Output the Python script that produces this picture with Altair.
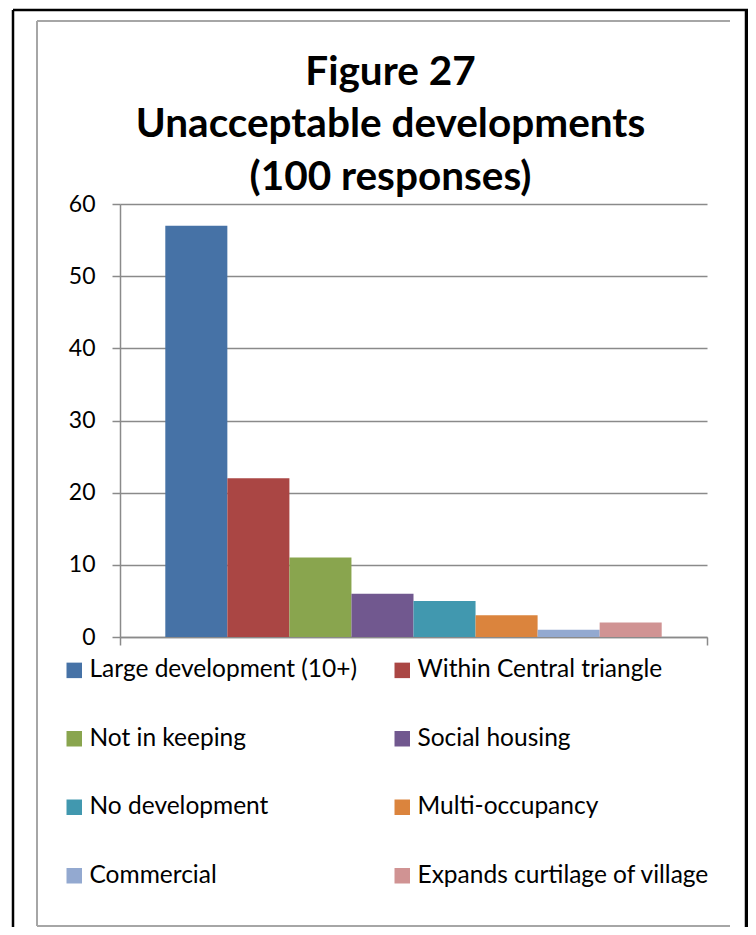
import altair as alt
import pandas as pd

# ---- data ----
series = [
    "Large development (10+)",
    "Within Central triangle",
    "Not in keeping",
    "Social housing",
    "No development",
    "Multi-occupancy",
    "Commercial",
    "Expands curtilage of village",
]
values = [57, 22, 11, 6, 5, 3, 1, 2]
colors = ["#4672A6", "#AA4644", "#89A54E", "#71588F", "#4198AF", "#DB843D", "#93A9D0", "#D09393"]
category = "Unacceptable developments"
title_lines = ["Figure 27", "Unacceptable developments", "(100 responses)"]
y_ticks = [0, 10, 20, 30, 40, 50, 60]

df = pd.DataFrame({"cat": [category] * len(series), "series": series, "value": values})

FONT = "Lato"
GRID = "#8a8a8a"

bars = alt.Chart(df).mark_bar().encode(
    x=alt.X("cat:N", title=None,
            scale=alt.Scale(paddingInner=0, paddingOuter=0),
            axis=alt.Axis(labels=False, tickBand="extent", tickSize=8, tickColor=GRID,
                          domainColor=GRID, domainWidth=1.5, tickWidth=1.5)),
    xOffset=alt.XOffset("series:N", sort=series,
                        scale=alt.Scale(paddingInner=0, paddingOuter=0.73)),
    y=alt.Y("value:Q", title=None,
            scale=alt.Scale(domain=[0, 60], nice=False),
            axis=alt.Axis(values=y_ticks, grid=True, gridColor=GRID, gridWidth=1.5,
                          domainColor=GRID, domainWidth=1.5, tickColor=GRID, tickWidth=1.5,
                          tickSize=8, labelPadding=17, labelFont=FONT, labelFontSize=23,
                          labelColor="black")),
    color=alt.Color("series:N", sort=series,
                    scale=alt.Scale(domain=series, range=colors),
                    legend=alt.Legend(title=None, orient="none", legendX=-58, legendY=454,
                                      direction="horizontal",
                                      columns=2, columnPadding=32, rowPadding=43.5,
                                      symbolType="square", symbolSize=240,
                                      symbolStrokeWidth=0, labelOffset=3,
                                      labelFont=FONT, labelFontSize=24.5,
                                      labelColor="black", labelLimit=400, padding=0)),
)

def frame(x, x2, y, y2, color, width):
    d = pd.DataFrame({"k": [0]})
    return alt.Chart(d).mark_rule(color=color, strokeWidth=width).encode(
        x=alt.value(x), x2=alt.value(x2), y=alt.value(y), y2=alt.value(y2))

frames = [
    # outer black frame
    frame(-107, -107, -194, 740, "black", 2.5),
    frame(-107, 628, -194, -194, "black", 2.5),
    frame(626.5, 626.5, -194, 740, "black", 3.5),
    # inner grey frame
    frame(-83, -83, -183, 722, "#a6a6a6", 2),
    frame(-83, 610, -183, -183, "#a6a6a6", 2),
    frame(-83, 610, 722, 722, "#a6a6a6", 2),
]

chart = alt.layer(bars, *frames).properties(
    width=587,
    height=433,
    autosize=alt.AutoSizeParams(type="none"),
    padding={"left": 112, "top": 196, "right": 41, "bottom": 290},
    title=alt.TitleParams(text=title_lines, font=FONT, fontSize=40.5, fontWeight="bold",
                          color="black", anchor="middle", frame="group", dx=-23,
                          baseline="alphabetic", lineHeight=52.5, offset=0, dy=222),
).configure_view(stroke=None)

chart.save("out.html", embed_options={"renderer": "svg", "actions": False})
